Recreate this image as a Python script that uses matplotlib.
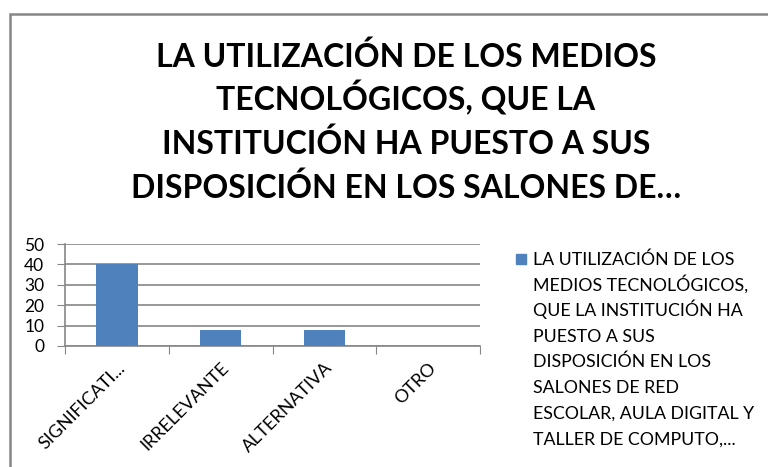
import matplotlib
matplotlib.use("Agg")
from matplotlib import pyplot as plt
from matplotlib.patches import Rectangle

categories = ["SIGNIFICATI...", "IRRELEVANTE", "ALTERNATIVA", "OTRO"]
values = [40, 8, 8, 0]
y_ticks = [0, 10, 20, 30, 40, 50]

title_lines = ["LA UTILIZACIÓN DE LOS MEDIOS", "TECNOLÓGICOS, QUE LA",
               "INSTITUCIÓN HA PUESTO A SUS", "DISPOSICIÓN EN LOS SALONES DE…"]
legend_lines = ["LA UTILIZACIÓN DE LOS", "MEDIOS TECNOLÓGICOS,",
                "QUE LA INSTITUCIÓN HA", "PUESTO A SUS", "DISPOSICIÓN EN LOS",
                "SALONES DE RED", "ESCOLAR, AULA DIGITAL Y",
                "TALLER DE COMPUTO,..."]

bar_color = "#4F81BD"
line_color = "#868686"

plt.rcParams["font.family"] = ["Lato", "DejaVu Sans"]

fig = plt.figure(figsize=(7.68, 4.67), dpi=100)
W, H = 768, 467

# chart frame (cropped at right and bottom)
fig.patches.append(Rectangle((10 / W, -0.1), 1.2, 1 - 14 / H + 0.1,
                             transform=fig.transFigure, fill=False,
                             edgecolor=line_color, linewidth=1.8))

ax = fig.add_axes([65 / W, 1 - 346 / H, (480 - 65) / W, (346 - 244) / H])
x = list(range(len(categories)))
ax.bar(x, values, width=0.4, color=bar_color, zorder=3)

ax.set_xlim(-0.5, len(categories) - 0.5)
ax.set_ylim(0, 50)
ax.set_yticks(y_ticks)
ax.tick_params(axis="y", labelsize=12.5, length=6, color=line_color, pad=9)
ax.grid(axis="y", color=line_color, linewidth=1.2, zorder=0)

ax.set_xticks([i - 0.5 for i in range(len(categories) + 1)])
ax.set_xticklabels([])
ax.set_xticks(x, minor=True)
ax.set_xticklabels(categories, minor=True, rotation=45, ha="right",
                   rotation_mode="anchor", fontsize=13)
ax.tick_params(axis="x", which="major", length=6, color=line_color)
ax.tick_params(axis="x", which="minor", length=0, pad=10)

for side in ["top", "right"]:
    ax.spines[side].set_visible(False)
for side in ["left", "bottom"]:
    ax.spines[side].set_color(line_color)
    ax.spines[side].set_linewidth(1.2)

# title, one line at a time for even spacing
for i, line in enumerate(title_lines):
    fig.text(406 / W, 1 - (67 + 43.6 * i) / H, line, ha="center",
             va="baseline", fontsize=23, fontweight="bold")

# legend
fig.patches.append(Rectangle((516 / W, 1 - 264 / H), 10 / W, 10 / H,
                             transform=fig.transFigure, color=bar_color))
for i, line in enumerate(legend_lines):
    fig.text(533 / W, 1 - (265 + 25.6 * i) / H, line, ha="left",
             va="baseline", fontsize=12.8)

fig.savefig("out.png", dpi=100)
